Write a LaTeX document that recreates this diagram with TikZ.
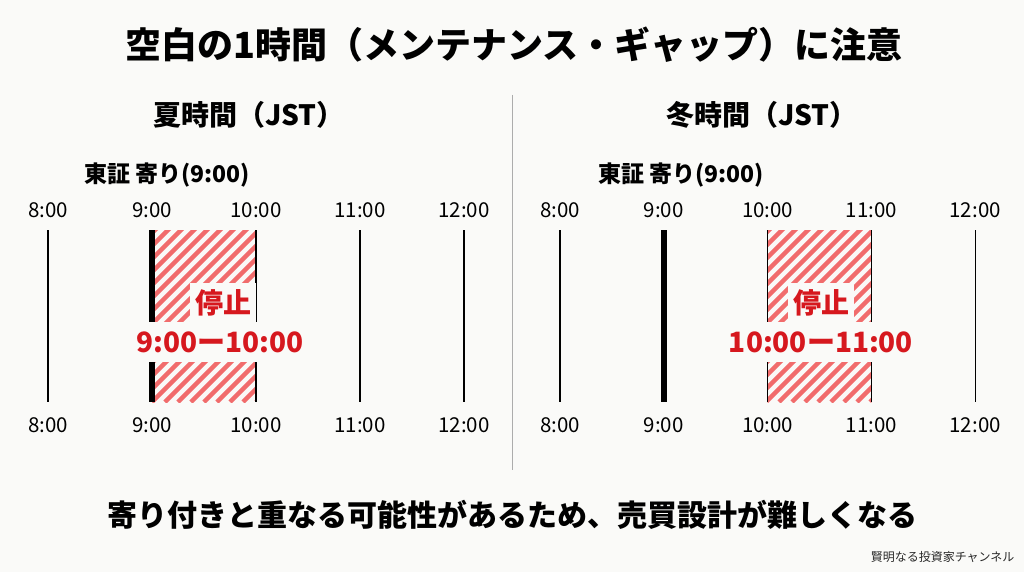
\documentclass[tikz,border=0pt]{standalone}
\usepackage{fontspec}
\setmainfont{Noto Sans CJK JP}
\usepackage{xcolor}
\usepackage{tikz}
\definecolor{stopred}{RGB}{214,24,30}
\definecolor{hatchred}{RGB}{241,108,108}
\definecolor{paper}{RGB}{250,250,248}
\definecolor{divgray}{RGB}{172,172,172}
\definecolor{creditgray}{RGB}{40,40,40}

\begin{document}
\begin{tikzpicture}[x=1pt, y=-1pt,
  title/.style={font=\fontsize{36}{40}\selectfont\bfseries},
  head/.style={font=\fontsize{28}{30}\selectfont\bfseries},
  open/.style={font=\fontsize{23}{25}\selectfont\bfseries},
  hour/.style={font=\fontsize{20.5}{22}\selectfont, inner sep=0pt},
  tick/.style={line width=1.3pt, black},
  opentick/.style={line width=6pt, black},
  hatch/.style={hatchred, line width=4.5pt},
  stopbox/.style={fill=paper, text=stopred, inner xsep=5pt, inner ysep=0pt,
    minimum height=40pt, font=\fontsize{28}{30}\selectfont\bfseries},
  note/.style={font=\fontsize{30}{32}\selectfont\bfseries},
  credit/.style={font=\fontsize{12}{14}\selectfont, text=creditgray}
]
\useasboundingbox[fill=paper] (0,0) rectangle (1024,572);

\node[title] (title) at (514,45) {空白の1時間（メンテナンス・ギャップ）に注意};

% divider
\coordinate (divtop) at (512,95);
\coordinate (divbot) at (512,470);
\draw[divgray, line width=1pt] (divtop) -- (divbot);

% headings
\node[head] (Shead) at (249,115) {夏時間（JST）};
\node[head] (Whead) at (762,115) {冬時間（JST）};
\node[open] (Sopen) at (167,175) {東証 寄り(9:00)};
\node[open] (Wopen) at (681,175) {東証 寄り(9:00)};

% hour axes
\foreach \h [count=\i from 0] in {8,...,12} {
  \node[hour] (St\h) at (48+104*\i,210) {\h:00};
  \node[hour] (Sb\h) at (48+104*\i,425) {\h:00};
  \coordinate (Sa\h) at (48+104*\i,230);
  \coordinate (Sz\h) at (48+104*\i,402);
  \node[hour] (Wt\h) at (560+103.8*\i,210) {\h:00};
  \node[hour] (Wb\h) at (560+103.8*\i,425) {\h:00};
  \coordinate (Wa\h) at (560+103.8*\i,230);
  \coordinate (Wz\h) at (560+103.8*\i,402);
}

% stop band, summer
\begin{scope}
  \clip (Sa9) rectangle (Sz10);
  \foreach \k in {0,...,23}
    \draw[hatch] (-30+13*\k,402) -- ++(180,-180);
\end{scope}
% stop band, winter
\begin{scope}
  \clip (Wa10) rectangle (Wz11);
  \foreach \k in {0,...,23}
    \draw[hatch] (584+13*\k,402) -- ++(180,-180);
\end{scope}

\foreach \h in {8,10,11,12} {
  \draw[tick] (Sa\h) -- (Sz\h);
  \draw[tick] (Wa\h) -- (Wz\h);
}
\draw[opentick] (Sa9) -- (Sz9);
\draw[opentick] (Wa9) -- (Wz9);

\node[stopbox] (Sstop) at (223,303) {停止};
\node[stopbox] (Stime) at (220,342) {9:00ー10:00};
\node[stopbox] (Wstop) at (821,303) {停止};
\node[stopbox] (Wtime) at (821,342) {10:00ー11:00};

\node[note] (note) at (512,515) {寄り付きと重なる可能性があるため、売買設計が難しくなる};
\node[credit, anchor=east] (credit) at (1018,557) {賢明なる投資家チャンネル};
\end{tikzpicture}
\end{document}
